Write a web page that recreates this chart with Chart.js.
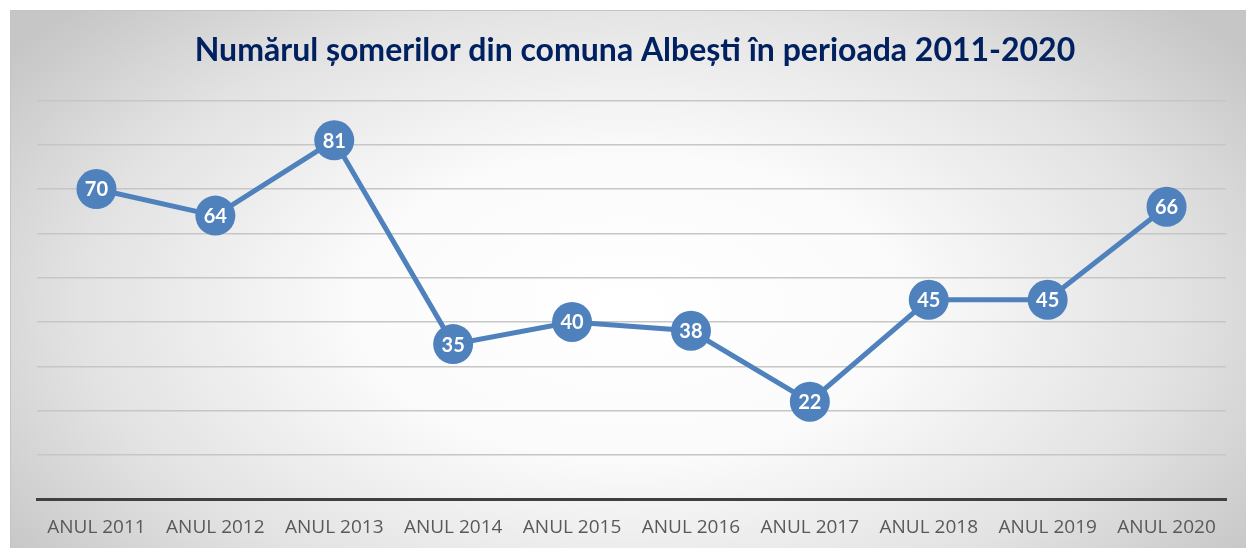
<!DOCTYPE html>
<html lang="ro">
  <head>
    <meta charset="UTF-8" />
    <title>Numărul șomerilor din comuna Albești</title>
    <script src="https://cdn.jsdelivr.net/npm/chart.js"></script>
    <style>
      body { margin: 0; background: #fff; }
      #wrap {
        position: absolute;
        left: 10px;
        top: 10px;
        width: 1236px;
        height: 538px;
        background: radial-gradient(ellipse 62% 80% at 50% 55%, #ffffff 0%, #fbfbfb 35%, #e2e2e2 72%, #c6c6c6 100%);
        border-top: 1px solid #c4c4c4;
        border-left: 1px solid #c4c4c4;
        box-sizing: border-box;
      }
    </style>
  </head>
  <body>
    <div id="wrap"><canvas id="somerChart"></canvas></div>

    <script>
      const ani = ["ANUL 2011", "ANUL 2012", "ANUL 2013", "ANUL 2014", "ANUL 2015",
                   "ANUL 2016", "ANUL 2017", "ANUL 2018", "ANUL 2019", "ANUL 2020"];
      const someri = [70, 64, 81, 35, 40, 38, 22, 45, 45, 66];

      // scrie valorile in mijlocul punctelor
      const valoriPlugin = {
        id: "valori",
        afterDatasetsDraw(chart) {
          const ctx = chart.ctx;
          const meta = chart.getDatasetMeta(0);
          ctx.save();
          ctx.fillStyle = "#ffffff";
          ctx.font = "bold 20px Lato, 'Open Sans', sans-serif";
          ctx.textAlign = "center";
          ctx.textBaseline = "middle";
          meta.data.forEach((pt, i) => {
            ctx.fillText(String(someri[i]), pt.x, pt.y + 1);
          });
          ctx.restore();
        },
      };

      new Chart(document.getElementById("somerChart"), {
        type: "line",
        data: {
          labels: ani,
          datasets: [
            {
              data: someri,
              borderColor: "#4f81bd",
              backgroundColor: "#4f81bd",
              borderWidth: 5,
              pointRadius: 20,
              pointHoverRadius: 20,
              pointBorderWidth: 0,
              fill: false,
              tension: 0,
            },
          ],
        },
        options: {
          responsive: true,
          maintainAspectRatio: false,
          animation: false,
          layout: { padding: { left: 26, right: 13, top: 0, bottom: 0 } },
          plugins: {
            legend: { display: false },
            tooltip: { enabled: false },
            title: {
              display: true,
              text: "Numărul șomerilor din comuna Albești în perioada 2011-2020",
              color: "#002060",
              font: { family: "Lato, 'Open Sans', sans-serif", size: 32, weight: "bold" },
              padding: { top: 20, bottom: 31 },
            },
          },
          scales: {
            x: {
              offset: true,
              grid: { display: false },
              border: { display: true, color: "#404040", width: 3 },
              ticks: {
                color: "#595959",
                font: { family: "'Open Sans', sans-serif", size: 19 },
                padding: 9,
                maxRotation: 0,
              },
            },
            y: {
              min: 0,
              max: 90,
              ticks: { display: false, stepSize: 10 },
              grid: { color: "#c6c6c6", lineWidth: 1.5, drawTicks: false },
              border: { display: false },
            },
          },
        },
        plugins: [valoriPlugin],
      });
    </script>
  </body>
</html>
